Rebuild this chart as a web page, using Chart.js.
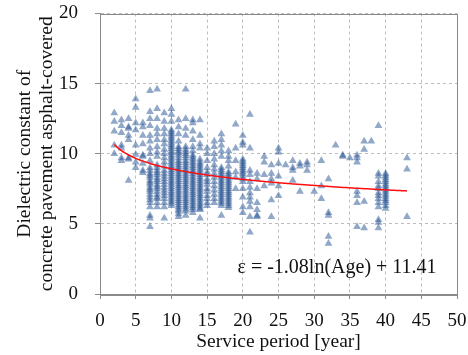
<!DOCTYPE html>
<html>
<head>
<meta charset="utf-8">
<script src="https://cdn.jsdelivr.net/npm/chart.js@4/dist/chart.umd.min.js"></script>
<style>
  html, body { margin: 0; padding: 0; background: #fff; }
  #wrap { width: 468px; height: 355px; }
</style>
</head>
<body>
<div id="wrap"><canvas id="chart" width="468" height="355"></canvas></div>
<script>
// Service period (years) of each measured column
const ages = [2, 3, 4, 5, 6, 7, 8, 9, 10, 11, 12, 13, 14, 15, 16, 17, 18, 19, 20, 21, 22,
  23, 24, 25, 26, 27, 28, 29, 30, 31, 32, 33, 34, 35, 36, 37, 38, 39, 40, 43];

// Dielectric constant readings for each service period above
const readings = [
  [12.9, 12.3, 11.6, 10.6, 10.0],
  [12.4, 12.0, 11.5, 10.6, 10.4, 9.7, 9.5],
  [12.5, 11.9, 11.8, 11.3, 11.0, 9.7, 9.6, 8.1],
  [13.9, 13.3, 12.2, 11.7, 10.6, 9.95, 9.4, 9.0],
  [12.2, 11.9, 11.3, 10.7, 9.9, 9.8, 9.3, 8.8, 8.65],
  [14.5, 13.0, 12.5, 12.0, 11.3, 10.9, 10.4, 10.0, 9.5, 9.0, 8.8, 8.6, 8.45, 8.3, 8.1, 7.95, 7.8, 7.6, 7.45, 7.3, 7.1, 6.9, 6.7, 6.5, 6.2, 5.6, 5.4, 4.8],
  [14.6, 13.2, 12.5, 11.8, 11.4, 11.0, 10.5, 10.1, 9.8, 9.2, 9.0, 8.8, 8.65, 8.5, 8.3, 8.15, 8.0, 7.8, 7.65, 7.5, 7.3, 7.1, 6.9, 6.8, 6.5, 6.2],
  [12.9, 12.3, 11.8, 11.4, 11.0, 10.7, 10.3, 10.0, 9.7, 9.4, 9.1, 8.8, 8.6, 8.4, 8.2, 8.0, 7.8, 7.6, 7.4, 7.2, 7.0, 6.8, 6.5, 6.2, 5.4],
  [13.2, 12.8, 12.3, 11.7, 11.55, 11.4, 11.25, 11.1, 10.95, 10.8, 10.65, 10.5, 10.35, 10.2, 10.05, 9.9, 9.75, 9.6, 9.45, 9.3, 9.15, 9.0, 8.85, 8.7, 8.55, 8.4, 8.25, 8.1, 7.95, 7.8, 7.65, 7.5, 7.35, 7.2, 7.05, 6.9, 6.75, 6.6, 6.45, 6.3],
  [12.4, 11.9, 11.4, 10.9, 10.5, 10.35, 10.2, 10.05, 9.9, 9.7, 9.5, 9.35, 9.2, 9.05, 8.9, 8.75, 8.6, 8.45, 8.3, 8.15, 8.0, 7.85, 7.7, 7.55, 7.4, 7.25, 7.1, 6.95, 6.8, 6.65, 6.5, 6.35, 6.2, 6.05, 5.9, 5.7, 5.5],
  [14.6, 12.5, 11.8, 11.3, 10.5, 10.3, 10.15, 10.0, 9.85, 9.7, 9.5, 9.35, 9.2, 9.05, 8.9, 8.75, 8.6, 8.45, 8.3, 8.15, 8.0, 7.85, 7.7, 7.55, 7.4, 7.25, 7.1, 6.95, 6.8, 6.65, 6.5, 6.35, 6.2, 6.05, 5.9, 5.6],
  [12.4, 12.2, 11.6, 11.0, 10.5, 10.2, 9.9, 9.75, 9.6, 9.45, 9.3, 9.15, 9.0, 8.85, 8.7, 8.55, 8.4, 8.25, 8.1, 7.95, 7.8, 7.65, 7.5, 7.35, 7.2, 7.05, 6.9, 6.75, 6.6, 6.45, 6.3, 6.15, 6.0, 5.8],
  [12.4, 11.3, 10.7, 10.4, 9.6, 9.4, 9.25, 9.1, 8.95, 8.8, 8.65, 8.5, 8.35, 8.2, 8.05, 7.9, 7.75, 7.6, 7.45, 7.3, 7.15, 7.0, 6.85, 6.7, 6.55, 6.4, 6.25, 6.1, 6.0, 5.4],
  [10.4, 10.0, 9.5, 9.0, 8.7, 8.5, 8.2, 8.0, 7.8, 7.5, 7.3, 7.0, 6.8, 6.5, 6.3],
  [10.9, 10.5, 10.0, 9.6, 9.2, 8.9, 8.6, 8.3, 8.0, 7.7, 7.4, 7.1, 6.8, 6.5],
  [11.4, 11.0, 10.6, 10.2, 9.8, 9.0, 8.85, 8.7, 8.55, 8.4, 8.25, 8.1, 7.95, 7.8, 7.65, 7.5, 7.35, 7.2, 7.05, 6.9, 6.75, 6.6, 6.45, 6.3, 5.6],
  [10.2, 9.8, 9.5, 9.1, 8.7, 8.55, 8.4, 8.25, 8.1, 7.95, 7.8, 7.65, 7.5, 7.35, 7.2, 7.05, 6.9, 6.75, 6.6, 6.45, 6.3, 6.15],
  [12.1, 10.4, 9.5, 8.7, 8.3, 7.5],
  [11.3, 10.8, 10.6, 9.6, 9.45, 9.3, 9.15, 9.0, 8.85, 8.7, 8.55, 8.4, 8.2, 8.0, 7.5, 6.9, 6.2, 5.8],
  [12.8, 10.4, 8.8, 8.5, 8.0, 7.6, 7.2, 6.9, 6.6, 6.2, 5.5, 4.4],
  [8.6, 8.2, 7.5, 6.5, 6.0, 5.6, 5.5],
  [9.8, 9.4, 8.5, 7.7],
  [9.2, 8.6, 8.2, 7.9, 6.7, 5.5],
  [10.4, 10.1, 9.3, 8.4, 7.7, 7.0],
  [9.2],
  [9.5, 9.0, 8.8, 8.1],
  [9.3, 9.1, 7.3],
  [9.4, 9.2, 8.8],
  [7.3],
  [9.5, 7.7, 6.8],
  [8.2, 5.8, 5.6, 4.1, 3.6],
  [10.6],
  [9.9, 9.8],
  [9.7],
  [9.9, 9.7, 9.4, 7.3, 7.0, 6.5, 4.8],
  [10.9, 10.3, 6.6, 4.7],
  [10.9],
  [12.0, 8.6, 8.4, 8.0, 7.7, 7.5, 7.2, 7.0, 6.8, 6.5, 6.2, 5.3, 5.1, 4.7],
  [8.6, 8.45, 8.3, 8.15, 8.0, 7.85, 7.7, 7.55, 7.4, 7.25, 7.1, 6.95, 6.8, 6.65, 6.5, 6.3, 6.1],
  [9.7, 8.9, 5.5]
];

// Logarithmic fit: eps = a * ln(Age) + b
const fitA = -1.08;
const fitB = 11.41;
const fitStart = 2;
const fitEnd = 43;

const xTicks = [0, 5, 10, 15, 20, 25, 30, 35, 40, 45, 50];
const yTicks = [0, 5, 10, 15, 20];

const serif = '"Liberation Serif", "Times New Roman", serif';

// Flatten readings into scatter points
const points = [];
ages.forEach((age, i) => {
  readings[i].forEach(v => points.push({ x: age, y: v }));
});

// Fit curve sampled every half year
const fitPoints = [];
for (let t = fitStart; t <= fitEnd; t += 0.5) {
  fitPoints.push({ x: t, y: fitA * Math.log(t) + fitB });
}

const fitLabel = 'ε = ' + fitA.toFixed(2) + 'ln(Age) + ' + fitB.toFixed(2);

// Solid frame around the plot plus the equation text
const framePlugin = {
  id: 'frame',
  afterDraw(chart) {
    const { ctx, chartArea: a, scales } = chart;
    ctx.save();
    ctx.strokeStyle = '#8a8a8a';
    ctx.lineWidth = 1;
    ctx.strokeRect(Math.round(a.left) + 0.5, Math.round(a.top) + 0.5,
      Math.round(a.right - a.left), Math.round(a.bottom - a.top));
    ctx.fillStyle = '#111';
    ctx.font = '20px ' + serif;
    ctx.textAlign = 'center';
    ctx.textBaseline = 'middle';
    ctx.fillText(fitLabel, scales.x.getPixelForValue(33.2), scales.y.getPixelForValue(1.85));
    ctx.restore();
  }
};

new Chart(document.getElementById('chart'), {
  type: 'scatter',
  data: {
    datasets: [
      {
        type: 'line',
        data: fitPoints,
        borderColor: '#ff1010',
        borderWidth: 1.5,
        pointRadius: 0,
        tension: 0.3,
        fill: false
      },
      {
        data: points,
        pointStyle: 'triangle',
        pointRadius: 4.5,
        backgroundColor: 'rgba(38, 82, 145, 0.5)',
        borderWidth: 0
      }
    ]
  },
  options: {
    responsive: false,
    animation: false,
    events: [],
    layout: { padding: { top: 0, right: 0, left: 14, bottom: 0 } },
    plugins: {
      legend: { display: false },
      tooltip: { enabled: false }
    },
    scales: {
      x: {
        type: 'linear',
        min: 0,
        max: 50,
        afterBuildTicks: s => { s.ticks = xTicks.map(v => ({ value: v })); },
        afterFit: s => {
          s.height = 61;
          s.paddingLeft = 0;
          s.paddingRight = 11;
        },
        ticks: { color: '#111', font: { family: serif, size: 19, lineHeight: 1 }, padding: 13 },
        grid: { color: '#bdbdbd', tickColor: '#8a8a8a', tickLength: 5, tickBorderDash: [] },
        border: { color: '#8a8a8a', dash: [3, 3] },
        title: {
          display: true,
          text: 'Service period [year]',
          color: '#111',
          font: { family: serif, size: 19.5, lineHeight: 1 },
          padding: { top: 5, bottom: 3 }
        }
      },
      y: {
        type: 'linear',
        min: 0,
        max: 20,
        afterBuildTicks: s => { s.ticks = yTicks.map(v => ({ value: v })); },
        afterFit: s => {
          s.width = 86;
          s.paddingTop = 13.5;
          s.paddingBottom = 0;
        },
        ticks: { color: '#111', font: { family: serif, size: 19, lineHeight: 1 }, padding: 17 },
        grid: { color: '#bdbdbd', tickColor: '#8a8a8a', tickLength: 5, tickBorderDash: [] },
        border: { color: '#8a8a8a', dash: [3, 3] },
        title: {
          display: true,
          text: ['Dielectric constant of', 'concrete pavement asphalt-covered'],
          color: '#111',
          font: { family: serif, size: 19.5, lineHeight: 1.13 },
          padding: { top: 0, bottom: 0 }
        }
      }
    }
  },
  plugins: [framePlugin]
});
</script>
</body>
</html>
